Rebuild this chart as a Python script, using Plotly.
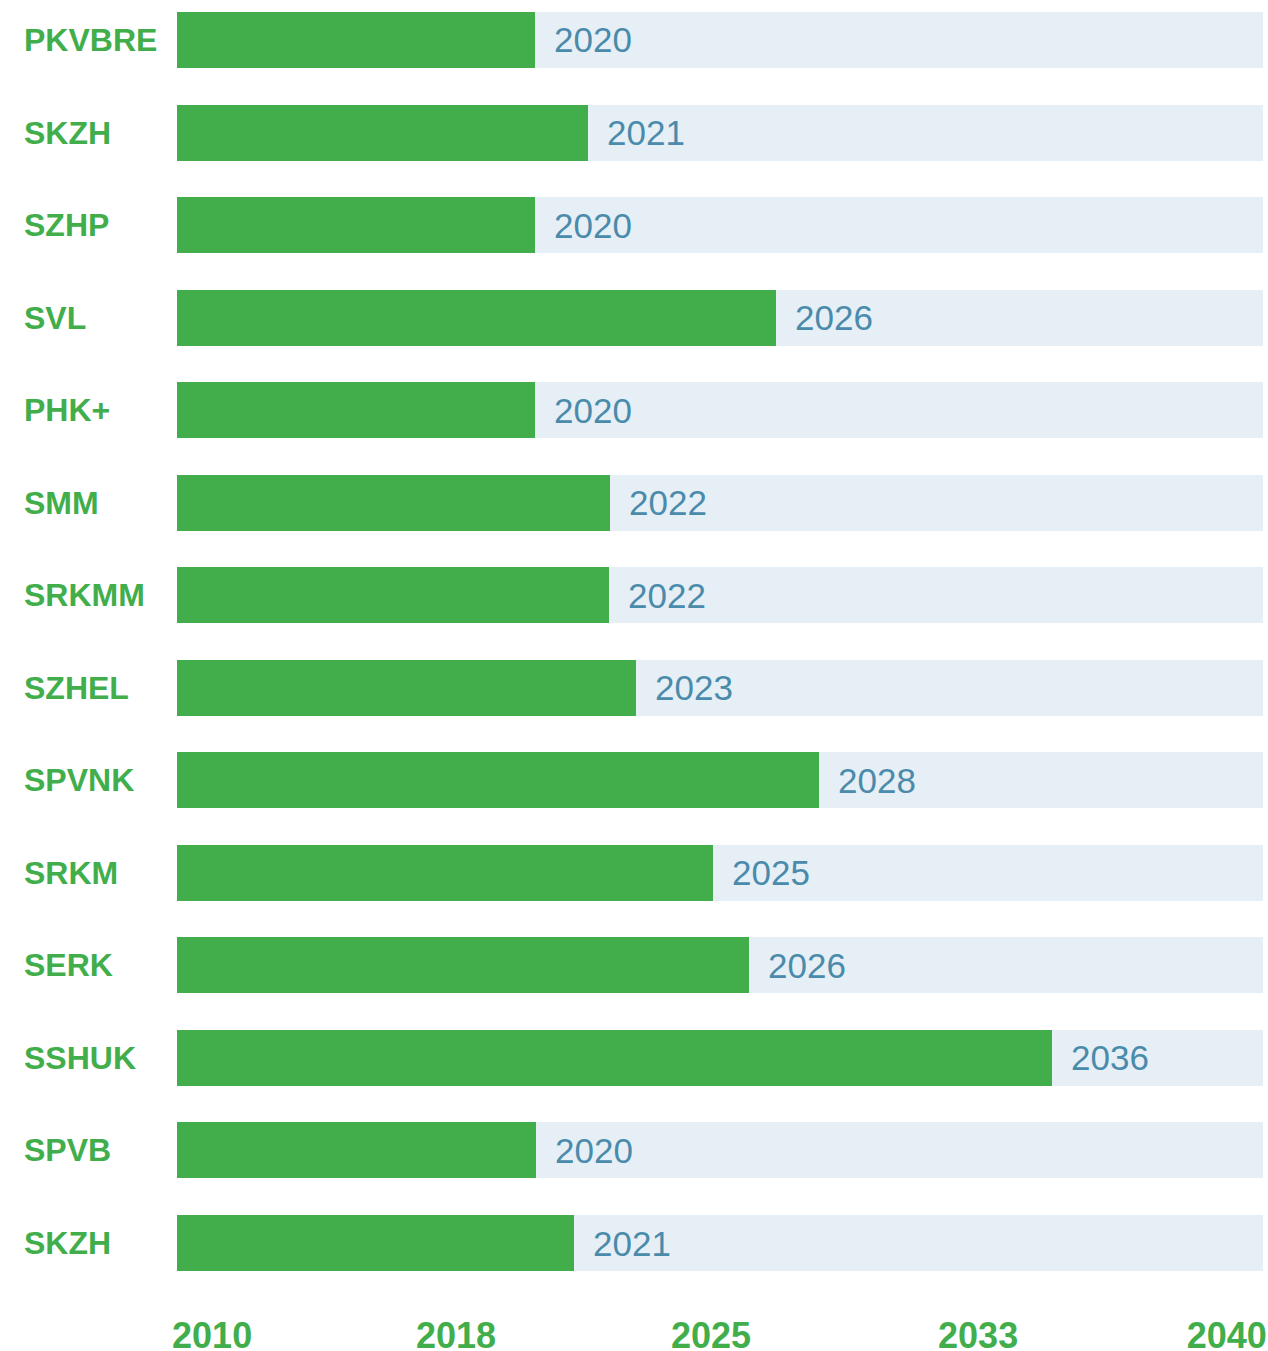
import plotly.graph_objects as go

categories = ["PKVBRE", "SKZH", "SZHP", "SVL", "PHK+", "SMM", "SRKMM", "SZHEL",
              "SPVNK", "SRKM", "SERK", "SSHUK", "SPVB", "SKZH "]
values = [2019.9, 2021.35, 2019.9, 2026.55, 2019.9, 2021.96, 2021.93, 2022.68,
          2027.73, 2024.8, 2025.8, 2034.17, 2019.92, 2020.97]
value_labels = ["2020", "2021", "2020", "2026", "2020", "2022", "2022", "2023",
                "2028", "2025", "2026", "2036", "2020", "2021"]
axis_min, axis_max = 2010, 2040
tick_vals = [2010.97, 2017.71, 2024.75, 2032.13, 2039.0]
tick_text = ["2010", "2018", "2025", "2033", "2040"]

GREEN = "#41ae4b"
BG = "#e6eff6"
LABEL = "#4a8bab"
FONT = "Liberation Sans, Arial, Helvetica, sans-serif"

fig = go.Figure()
fig.add_trace(go.Bar(
    y=categories, x=[axis_max] * len(categories), orientation="h",
    marker=dict(color=BG, line=dict(width=0)), width=0.605,
    hoverinfo="skip", showlegend=False))
fig.add_trace(go.Bar(
    y=categories, x=values, orientation="h",
    marker=dict(color=GREEN, line=dict(width=0)), width=0.605,
    showlegend=False))

annotations = []
for cat, v, lab in zip(categories, values, value_labels):
    annotations.append(dict(
        x=v, y=cat, xref="x", yref="y", text=lab, showarrow=False,
        xanchor="left", xshift=17, font=dict(family=FONT, size=35, color=LABEL)))
    annotations.append(dict(
        x=-(177 - 22) / 1086, y=cat, xref="paper", yref="y", text="<b>%s</b>" % cat.strip(),
        showarrow=False, xanchor="left", font=dict(family=FONT, size=32, color=GREEN)))

fig.update_layout(
    width=1268, height=1351,
    margin=dict(l=177, r=5, t=12, b=80, autoexpand=False),
    paper_bgcolor="white", plot_bgcolor="white",
    barmode="overlay", bargap=0,
    annotations=annotations,
    xaxis=dict(range=[axis_min, axis_max], tickvals=tick_vals, ticktext=tick_text,
               showgrid=False, zeroline=False, showline=False, automargin=False,
               ticks="outside", ticklen=33, tickcolor="rgba(0,0,0,0)",
               tickfont=dict(family=FONT, size=36, color=GREEN, weight="bold")),
    yaxis=dict(categoryorder="array", categoryarray=categories, automargin=False,
               autorange=False, range=[13.3025, -0.3025],
               showticklabels=False, showgrid=False, zeroline=False, showline=False),
)
fig.write_html(
    "out.html",
    config={"displayModeBar": False},
    post_script="document.body.style.margin='0';document.body.style.overflow='hidden';"
                "document.documentElement.style.overflow='hidden';",
)
